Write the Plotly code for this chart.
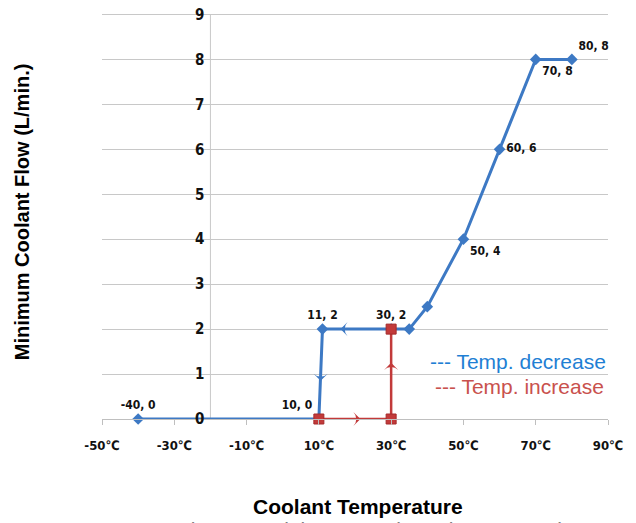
import plotly.graph_objects as go

# Temperature-decrease path (blue)
dec_x = [-40, 10, 11, 30, 35, 40, 50, 60, 70, 80]
dec_y = [0, 0, 2, 2, 2, 2.5, 4, 6, 8, 8]
dec_labels = ["-40, 0", "10, 0", "11, 2", "30, 2", "", "", "50, 4", "60, 6", "70, 8", "80, 8"]
dec_label_pos = ["top center", "top left", "top center", "top center", "top center", "top center",
                 "bottom right", "middle right", "bottom right", "top right"]

# Temperature-increase path (red)
inc_x = [10, 30, 30]
inc_y = [0, 0, 2]

# direction arrows on the paths
dec_arrow_x = [16, 10.5]
dec_arrow_y = [2, 0.85]
dec_arrow_ang = [270, 180]
inc_arrow_x = [21.5, 30]
inc_arrow_y = [0, 1.25]
inc_arrow_ang = [90, 0]

x_ticks = [-50, -30, -10, 10, 30, 50, 70, 90]
x_tick_labels = ["-50℃", "-30℃", "-10℃", "10℃", "30℃", "50℃", "70℃", "90℃"]
y_ticks = list(range(0, 10))
X_MIN, X_MAX, Y_MAX, Y_AXIS_X = -50, 90, 9, -20

BLUE = "#3d79c4"
RED = "#c23a3a"
GRID = "#c8c8c8"
NARROW = "DejaVu Sans Condensed, Liberation Sans Narrow, sans-serif"
ARIAL = "Liberation Sans, Arial, sans-serif"

# body margin is removed in the page, so figure pixels == screen pixels
OFF = 0
Y_TOP = 9.1
PL, PR, PB = 102, 608, 419          # target plot area in screen pixels
PT = PB - (PB - 14) * Y_TOP / 9     # so that y=9 lands on screen row 14
W, H = 636, 523

fig = go.Figure()

fig.add_trace(go.Scatter(
    x=dec_x, y=dec_y, mode="lines+markers+text",
    line=dict(color=BLUE, width=3),
    marker=dict(symbol="diamond", size=9, color=BLUE),
    text=dec_labels, textposition=dec_label_pos,
    textfont=dict(family=NARROW, size=12, color="#111111", weight="bold"),
    cliponaxis=False, showlegend=False,
))
fig.add_trace(go.Scatter(
    x=dec_arrow_x, y=dec_arrow_y, mode="markers",
    marker=dict(symbol="arrow-wide", size=10, angle=dec_arrow_ang, color=BLUE),
    showlegend=False, cliponaxis=False,
))
fig.add_trace(go.Scatter(
    x=inc_x, y=inc_y, mode="lines+markers",
    line=dict(color=RED, width=2.5),
    marker=dict(symbol="square", size=10, color=RED, line=dict(color="#a52a2a", width=1)),
    cliponaxis=False, showlegend=False,
))
fig.add_trace(go.Scatter(
    x=inc_arrow_x, y=inc_arrow_y, mode="markers",
    marker=dict(symbol="arrow-wide", size=10, angle=inc_arrow_ang, color=RED),
    showlegend=False, cliponaxis=False,
))

fig.update_layout(
    width=W, height=H,
    margin=dict(l=PL - OFF, r=W - (PR - OFF), t=PT - OFF, b=H - (PB - OFF), autoexpand=False),
    paper_bgcolor="white", plot_bgcolor="white",
    xaxis=dict(
        range=[X_MIN, X_MAX], tickvals=x_ticks, ticktext=x_tick_labels,
        showgrid=False, zeroline=False, automargin=False,
        showline=True, linecolor="#bfbfbf", linewidth=1,
        ticks="outside", ticklen=5, tickcolor="#bfbfbf",
        ticklabelstandoff=9,
        tickfont=dict(family=NARROW, size=13, color="#111111", weight="bold"),
        domain=[0, 1],
    ),
    yaxis=dict(
        range=[0, Y_TOP], tickvals=y_ticks,
        showgrid=True, gridcolor=GRID, gridwidth=1,
        zeroline=False, automargin=False,
        showline=False,
        anchor="free", position=(Y_AXIS_X - X_MIN) / (X_MAX - X_MIN),
        ticks="", ticklabelstandoff=6, ticklabeloverflow="allow",
        tickfont=dict(family=NARROW, size=15, color="#111111", weight="bold"),
    ),
    shapes=[
        dict(type="line", xref="x", yref="y", x0=Y_AXIS_X, x1=Y_AXIS_X, y0=0, y1=Y_MAX,
             line=dict(color=GRID, width=1), layer="below"),
        dict(type="line", xref="x", yref="y", x0=X_MIN, x1=X_MAX, y0=Y_MAX, y1=Y_MAX,
             line=dict(color=GRID, width=1), layer="below"),
    ],
)

pw, ph = PR - PL, PB - PT


def px(x):
    return (x - PL) / pw


def py(y):
    return (PB - y) / ph


fig.add_annotation(text="Minimum Coolant Flow (L/min.)", xref="paper", yref="paper",
                   x=px(22), y=py(212), xanchor="center", yanchor="middle",
                   textangle=-90, showarrow=False,
                   font=dict(family=ARIAL, size=20, color="black", weight="bold"))
fig.add_annotation(text="Coolant Temperature", xref="paper", yref="paper",
                   x=px(358), y=py(507), xanchor="center", yanchor="middle", showarrow=False,
                   font=dict(family=ARIAL, size=21, color="black", weight="bold"))
fig.add_annotation(text="Figure 1: Minimum Coolant Flow vs. Coolant Temperature", xref="paper", yref="paper",
                   x=px(176), y=py(516), xanchor="left", yanchor="top", showarrow=False,
                   font=dict(family=ARIAL, size=21, color="#808080"))
fig.add_annotation(text="--- Temp. decrease", xref="paper", yref="paper",
                   x=px(608), y=py(361), xanchor="right", yanchor="middle", showarrow=False,
                   font=dict(family=ARIAL, size=21, color="#1f7fd4"))
fig.add_annotation(text="--- Temp. increase", xref="paper", yref="paper",
                   x=px(433), y=py(386), xanchor="left", yanchor="middle", showarrow=False,
                   font=dict(family=ARIAL, size=21, color="#c9514d"))

fig.write_html("out.html", config={"displayModeBar": False},
               post_script="document.body.style.margin='0px';")
